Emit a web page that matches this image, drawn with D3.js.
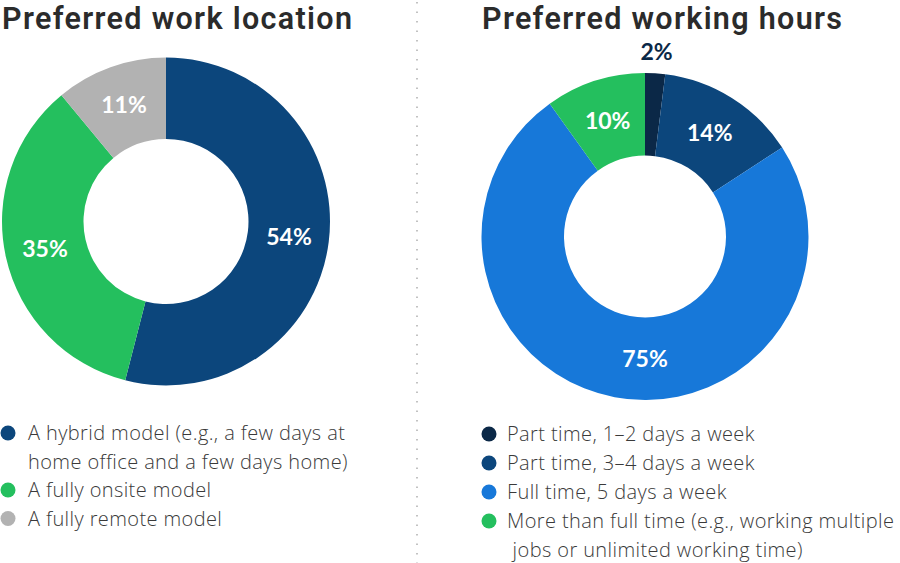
<!DOCTYPE html>
<html><head><meta charset="utf-8">
<script src="https://cdn.jsdelivr.net/npm/d3@7"></script>
<style>
html,body{margin:0;padding:0;background:#fff;}
svg{display:block;}
</style></head>
<body>
<svg id="chart" width="900" height="563"></svg>
<script>
// ---- Data ----
const locationCategories = ["A hybrid model (e.g., a few days at|home office and a few days home)", "A fully onsite model", "A fully remote model"];
const locationValues = [54, 35, 11];
const locationColors = ["#0c467c", "#24bf5e", "#b2b2b2"];

const hoursCategories = ["Part time, 1–2 days a week", "Part time, 3–4 days a week", "Full time, 5 days a week", "More than full time (e.g., working multiple| jobs or unlimited working time)"];
const hoursValues = [2, 14, 75, 10];
const hoursColors = ["#0b2847", "#0c467c", "#1778d9", "#24bf5e"];

const titles = ["Preferred work location", "Preferred working hours"];

// ---- Drawing ----
const svg = d3.select("#chart");
const titleFont = "Roboto, 'Open Sans', sans-serif";
const legendFont = "'Open Sans', sans-serif";
const labelFont = "Lato, 'Open Sans', sans-serif";

function donut(opts) {
  const g = svg.append("g").attr("transform", `translate(${opts.cx},${opts.cy})`);
  const total = d3.sum(opts.values);
  const pie = d3.pie().sort(null).value(d => d)(opts.values);
  const arc = d3.arc().innerRadius(opts.inner).outerRadius(opts.outer);
  g.selectAll("path").data(pie).join("path")
    .attr("d", arc).attr("fill", (d, i) => opts.colors[i]);
  const labelArc = d3.arc().innerRadius(opts.labelR).outerRadius(opts.labelR);
  const outArc = d3.arc().innerRadius(opts.outer + 22).outerRadius(opts.outer + 22);
  g.selectAll("text").data(pie).join("text")
    .attr("transform", (d, i) => {
      let c;
      if (d.value / total < 0.05) c = outArc.centroid(d);
      else if (opts.bottom && opts.bottom[i]) c = [0, opts.labelR];
      else c = labelArc.centroid(d);
      return `translate(${c[0]},${c[1]})`;
    })
    .attr("text-anchor", "middle").attr("dy", "0.36em")
    .attr("font-family", labelFont).attr("font-weight", 700)
    .attr("font-size", 23)
    .attr("fill", d => d.value / total < 0.05 ? opts.colors[d.index] : "#fff")
    .text(d => d.value + "%");
}

function legend(opts) {
  let y = opts.y;
  opts.cats.forEach((c, i) => {
    const lines = c.split("|");
    svg.append("circle").attr("cx", opts.x).attr("cy", y).attr("r", 7.5).attr("fill", opts.colors[i]);
    lines.forEach((ln, j) => {
      svg.append("text").attr("x", opts.x + opts.dx).attr("y", y + j * opts.lh)
        .attr("dy", "0.35em").attr("font-family", legendFont).attr("font-weight", 300)
        .attr("font-size", 20).attr("letter-spacing", 0.4).attr("fill", "#3a3a3a").attr("xml:space", "preserve")
        .text(ln);
    });
    y += lines.length * opts.lh;
  });
}

// titles
[[2, titles[0], 350], [482, titles[1], 360]].forEach(([x, t, w]) => {
  svg.append("text").attr("x", x).attr("y", 28.5).attr("font-family", titleFont)
    .attr("font-weight", 600).attr("font-size", 30.5)
    .attr("textLength", w).attr("lengthAdjust", "spacing")
    .attr("fill", "#2b2b2b").text(t);
});

// separator
svg.append("line").attr("x1", 417).attr("x2", 417).attr("y1", 2).attr("y2", 563)
  .attr("stroke", "#9a9a9a").attr("stroke-width", 1.2).attr("stroke-dasharray", "1.5,8");

donut({cx: 166, cy: 221.5, inner: 82.5, outer: 164, labelR: 124, values: locationValues, colors: locationColors});
donut({cx: 645, cy: 236.5, inner: 81, outer: 163.5, labelR: 122, values: hoursValues, colors: hoursColors, bottom: [false, false, true, false]});

legend({x: 8, y: 433, dx: 20, lh: 28.5, cats: locationCategories, colors: locationColors});
legend({x: 489, y: 434, dx: 18, lh: 29, cats: hoursCategories, colors: hoursColors});
</script>
</body></html>
